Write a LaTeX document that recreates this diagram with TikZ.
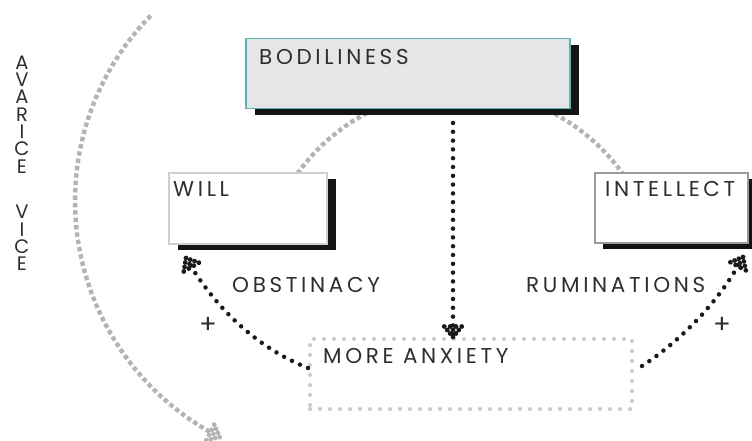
\documentclass[tikz,border=0pt]{standalone}
\usepackage{fontspec}
\setmainfont{Poppins}[LetterSpace=17]
\usetikzlibrary{shadows}

\definecolor{ink}{HTML}{2E2E2E}
\definecolor{boxteal}{HTML}{5DB4AE}
\definecolor{boxfill}{HTML}{E6E6E6}
\definecolor{arcgray}{HTML}{B4B4B4}
\definecolor{dotgray}{HTML}{C8C8C8}
\definecolor{willedge}{HTML}{CFCFCF}
\definecolor{inteledge}{HTML}{9A9A9A}
\definecolor{dotink}{HTML}{1A1A1A}

\tikzset{
  txt/.style={font=\fontsize{21.5}{24}\selectfont, text=ink, inner sep=0pt, anchor=base west},
  vcaption/.style={font=\fontsize{19.5}{17.3}\selectfont, text=ink, inner sep=0pt,
                   align=center, text depth=0pt, anchor=south},
  shadowed/.style={drop shadow={shadow xshift=9pt, shadow yshift=-6pt, fill=black!92, opacity=1}},
  conceptbox/.style={minimum height=70pt, anchor=north west, inner sep=0pt, fill=white, shadowed},
  blackdots/.style={draw=dotink, line width=4.5pt, line cap=round, dash pattern=on 0pt off 8.8pt},
  grayarc/.style={draw=arcgray, line width=4.4pt, dash pattern=on 4.4pt off 3pt},
  dothead/.pic={
    \foreach \p in {(0,0),(-3.5,2.9),(-3.5,-2.9),(-7,0),(-7,5.8),(-7,-5.8),
                    (-10.5,2.9),(-10.5,-2.9),(-10.5,8.7),(-10.5,-8.7)}
      \fill \p circle[radius=2.4pt];
  }
}

\begin{document}
\begin{tikzpicture}[x=1pt, y=-1pt]
\useasboundingbox (0,0) rectangle (752,441);

% outer sweep of the vice
\draw[grayarc]
  plot[domain=135.6:241, samples=40] ({340+265*cos(\x)},{201-265*sin(\x)});
\coordinate (arctip) at (219.7,437.1);
\pic[color=arcgray, rotate=-27] at (arctip) {dothead};

% inner arc joining the three faculties (hidden under the boxes)
\draw[grayarc]
  plot[domain=35:145, samples=40] ({460+200*cos(\x)},{290-200*sin(\x)});

% faculty boxes
\node[conceptbox, draw=boxteal, fill=boxfill, line width=1.5pt,
      minimum width=324pt] (bod) at (245,38) {};
\node[conceptbox, draw=willedge, line width=1.5pt,
      minimum width=158pt, minimum height=71pt] (will) at (168,172) {};
\node[conceptbox, draw=inteledge, line width=2pt,
      minimum width=153pt, drop shadow={shadow xshift=8pt, shadow yshift=-6pt, fill=black!92, opacity=1}] (intel) at (594,172) {};

% anxiety box with dotted outline
\node[draw=dotgray, line width=4pt, line cap=round, dash pattern=on 0pt off 10pt,
      minimum width=322pt, minimum height=70pt, anchor=north west, inner sep=0pt] (anx) at (308,337) {};

% dotted connectors
\coordinate (vtop) at (453,123);
\coordinate (willtip) at (186,258);
\coordinate (inteltip) at (743,257);
\draw[blackdots] (vtop) -- (vtop |- anx.north);
\pic[color=dotink, rotate=-90] at (vtop |- anx.north) {dothead};
\draw[blackdots] ([yshift=6pt]anx.west) .. controls (275,355) and (225,325) .. (willtip);
\pic[color=dotink, rotate=120.2] at (willtip) {dothead};
\draw[blackdots] ([xshift=8pt,yshift=8pt]anx.east) .. controls (670,348) and (715,310) .. (inteltip);
\pic[color=dotink, rotate=62.2] at (inteltip) {dothead};

% labels
\node[txt] (tbod) at (259,65) {BODILINESS};
\node[txt] (twill) at (173,196) {WILL};
\node[txt] (tintel) at (605,196) {INTELLECT};
\node[txt] (tanx) at (323,363) {MORE ANXIETY};
\node[txt] (tobst) at (232,292) {OBSTINACY};
\node[txt] (trum) at (526,292) {RUMINATIONS};
\node[txt, font=\fontsize{26}{28}\selectfont, anchor=center] (plusl) at (208,325) {+};
\node[txt, font=\fontsize{26}{28}\selectfont, anchor=center] (plusr) at (722,325) {+};

% vertical caption, one letter per line
\node[vcaption] (vice) at (22,271)
  {A\\V\\A\\R\\I\\C\\E\\[28.5pt]V\\I\\C\\E};
\end{tikzpicture}
\end{document}
